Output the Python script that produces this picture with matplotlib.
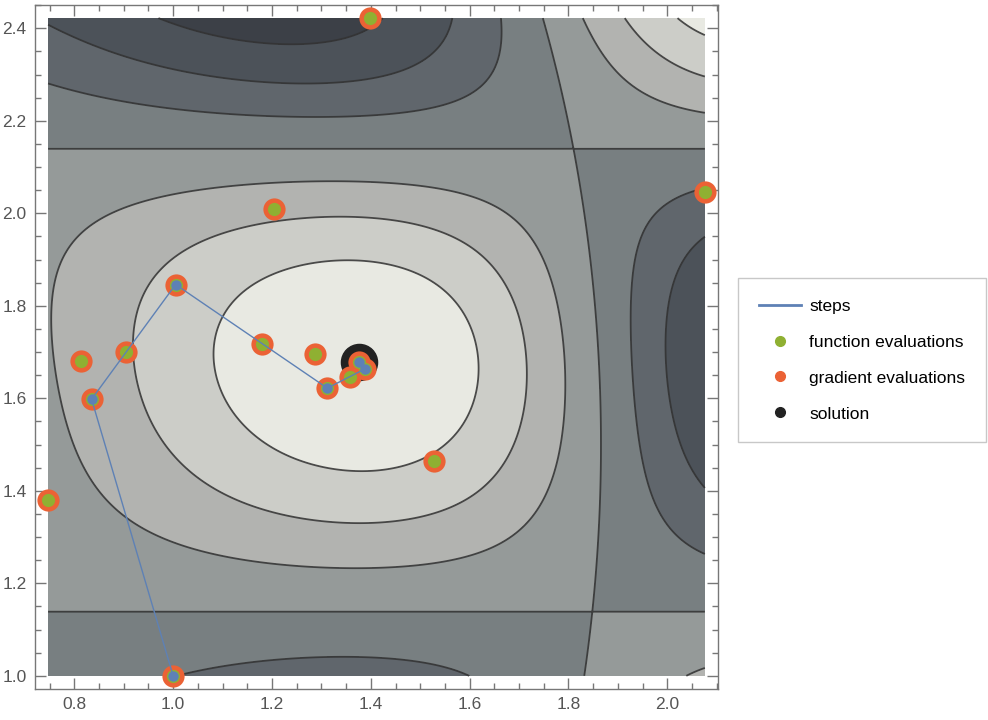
import numpy as np
import matplotlib.pyplot as plt
from matplotlib.lines import Line2D
from matplotlib.ticker import MultipleLocator

plt.rcParams["font.family"] = ["Liberation Sans", "DejaVu Sans"]

# ----------------------------
# data
# ----------------------------
# steps of the minimiser (blue line + blue dots)
step_x = [1.0, 0.835, 1.005, 1.312, 1.389, 1.377]
step_y = [1.0, 1.598, 1.846, 1.622, 1.664, 1.678]

# points where function / gradient were evaluated
eval_x = [1.0, 0.835, 0.904, 0.813, 0.747, 1.005, 1.205, 1.399,
          2.076, 1.180, 1.288, 1.312, 1.527, 1.357, 1.389, 1.377]
eval_y = [1.0, 1.598, 1.700, 1.680, 1.381, 1.846, 2.009, 2.422,
          2.045, 1.717, 1.695, 1.622, 1.465, 1.647, 1.664, 1.678]

sol_x, sol_y = 1.376, 1.679

# contour levels and band colours (light = low)
levels = [-2.01, -1.5, -1.0, -0.5, 0.0, 0.5, 1.0, 1.5, 2.01]
band_colors = ["#e8e9e2", "#cccdc8", "#b2b3b0", "#959a99",
               "#787f81", "#60666c", "#4c5259", "#3c4047"]


def f(x, y):
    # Cos[x^2 - 3 y] + Sin[x^2 + y^2]
    return np.cos(x**2 - 3*y) + np.sin(x**2 + y**2)


xmin, xmax = min(eval_x), max(eval_x)
ymin, ymax = min(eval_y), max(eval_y)
gx, gy = np.meshgrid(np.linspace(xmin, xmax, 400), np.linspace(ymin, ymax, 400))
gz = f(gx, gy)

fig = plt.figure(figsize=(9.88, 7.2), dpi=100)
ax = fig.add_axes([0.0354, 0.0431, 0.6913, 0.95])

ax.contourf(gx, gy, gz, levels=levels, colors=band_colors)
ax.contour(gx, gy, gz, levels=levels[1:-1], colors="#333333",
           linewidths=1.3, alpha=0.85, linestyles="solid")

blue = "#5e81b5"
green = "#8fb032"
orange = "#eb6235"
black = "#222222"

ax.plot(sol_x, sol_y, "o", ms=26, color=black, zorder=3)
ax.plot(eval_x, eval_y, "o", ms=16, color=orange, mec="none", zorder=4,
        clip_on=False)
ax.plot(eval_x, eval_y, "o", ms=9.5, color=green, mec="none", zorder=5,
        clip_on=False)
ax.plot(step_x, step_y, "-", lw=1, color=blue, zorder=6)
ax.plot(step_x, step_y, "o", ms=7.5, color=blue, mec="none", zorder=7,
        clip_on=False)

# frame like Mathematica
padx = 0.02 * (xmax - xmin)
pady = 0.02 * (ymax - ymin)
ax.set_xlim(xmin - padx, xmax + padx)
ax.set_ylim(ymin - pady, ymax + pady)
ax.xaxis.set_major_locator(MultipleLocator(0.2))
ax.xaxis.set_minor_locator(MultipleLocator(0.05))
ax.yaxis.set_major_locator(MultipleLocator(0.2))
ax.yaxis.set_minor_locator(MultipleLocator(0.05))
ax.xaxis.set_major_formatter(lambda v, p: f"{v:.1f}")
ax.yaxis.set_major_formatter(lambda v, p: f"{v:.1f}")
ax.tick_params(which="both", direction="in", top=True, right=True,
               color="#777777", labelcolor="#555555", labelsize=12.5, width=1)
ax.tick_params(which="major", length=8, pad=6)
ax.tick_params(which="minor", length=4.5)
for s in ax.spines.values():
    s.set_color("#777777")
    s.set_linewidth(1)

handles = [
    Line2D([], [], color=blue, lw=2),
    Line2D([], [], ls="none", marker="o", ms=7, color=green),
    Line2D([], [], ls="none", marker="o", ms=7, color=orange),
    Line2D([], [], ls="none", marker="o", ms=7, color=black),
]
labels = ["steps", "function evaluations", "gradient evaluations", "solution"]
leg = fig.legend(handles, labels, loc="center left", bbox_to_anchor=(0.747, 0.5),
                 fontsize=12.5, frameon=True, fancybox=False, labelspacing=1.2,
                 borderpad=1.2, handlelength=2.4, handletextpad=0.5,
                 borderaxespad=0)
leg.get_frame().set_edgecolor("#bbbbbb")
leg.get_frame().set_linewidth(1)

fig.savefig("out.png", dpi=100)
